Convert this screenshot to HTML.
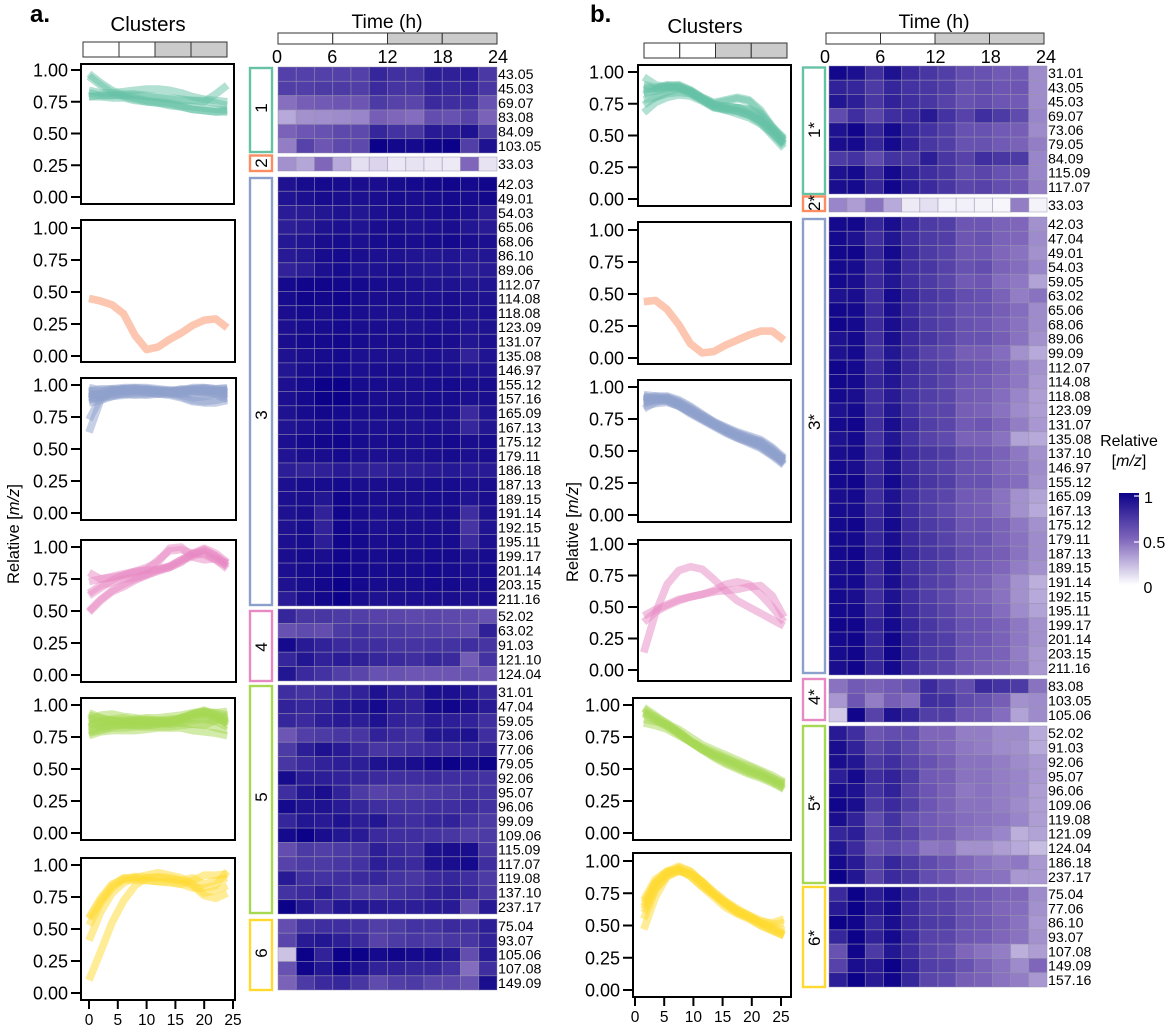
<!DOCTYPE html>
<html lang="en">
<head>
<meta charset="utf-8">
<title>Relative m/z clusters and heatmaps</title>
<style>
  html,body{margin:0;padding:0;background:#fff;}
  svg{display:block;font-family:"Liberation Sans",Arial,sans-serif;fill:#000;}
</style>
</head>
<body>
<svg id="figure" xmlns="http://www.w3.org/2000/svg" width="1170" height="1030" viewBox="0 0 1170 1030">
  <rect x="0" y="0" width="1170" height="1030" fill="#fff"/>
  <text x="30" y="22" font-size="24" font-weight="bold">a.</text>
  <text x="590" y="22" font-size="24" font-weight="bold">b.</text>
  <text x="148" y="31" font-size="20.5" text-anchor="middle">Clusters</text>
  <text x="705" y="33" font-size="20.5" text-anchor="middle">Clusters</text>
  <text x="387" y="28" font-size="19.3" text-anchor="middle">Time (h)</text>
  <text x="934" y="28" font-size="19.3" text-anchor="middle">Time (h)</text>
  <text transform="translate(19,534) rotate(-90)" font-size="16.5" text-anchor="middle">Relative [<tspan font-style="italic">m/z</tspan>]</text>
  <text transform="translate(578,532) rotate(-90)" font-size="16.5" text-anchor="middle">Relative [<tspan font-style="italic">m/z</tspan>]</text>
  <text x="1129" y="446" font-size="16" text-anchor="middle">Relative</text>
  <text x="1129" y="466" font-size="16" text-anchor="middle">[<tspan font-style="italic">m/z</tspan>]</text>
  <defs>
    <linearGradient id="colorbarGradient" x1="0" y1="0" x2="0" y2="1"></linearGradient>
  </defs>
  <rect x="1119" y="493" width="20" height="92" fill="url(#colorbarGradient)"/>
  <line x1="1134" x2="1139" y1="496" y2="496" stroke="#fff" stroke-width="1.2"/>
  <line x1="1134" x2="1139" y1="542" y2="542" stroke="#fff" stroke-width="1.2"/>
  <text x="1144" y="503" font-size="16">1</text>
  <text x="1143" y="548" font-size="16">0.5</text>
  <text x="1143.5" y="593" font-size="16">0</text>
  <g id="chartLayer"></g>
</svg>
<script>
/* ---------- line-chart data ---------- */
const hoursA = [0,2,4,6,8,10,12,14,16,18,20,22,24];
const hoursB = [1.5,3.5,5.5,7.5,9.5,11.5,13.5,15.5,17.5,19.5,21.5,23.5,25.5];
const yTickValues = [1,0.75,0.5,0.25,0];
const yTickLabels = ["1.00","0.75","0.50","0.25","0.00"];
const xTickValues = [0,5,10,15,20,25];
const xTickLabels = ["0","5","10","15","20","25"];
const timeTickLabels = ["0","6","12","18","24"];
const clusterColors = ["#66c2a5","#fc8d62","#8da0cb","#e78ac3","#a6d854","#ffd92f"];

const a1Lines = [
 [.97,.90,.84,.80,.78,.76,.75,.74,.72,.71,.70,.69,.69],
 [.95,.88,.82,.79,.77,.75,.74,.72,.71,.69,.68,.67,.67],
 [.84,.82,.82,.83,.84,.85,.85,.84,.82,.79,.77,.76,.75],
 [.79,.80,.80,.81,.81,.80,.79,.78,.77,.76,.76,.74,.72],
 [.82,.80,.80,.80,.80,.79,.78,.77,.76,.76,.75,.81,.88],
 [.79,.79,.78,.78,.76,.75,.74,.73,.71,.69,.68,.67,.68]
];
const a2Lines = [[.45,.43,.40,.33,.16,.05,.07,.13,.18,.24,.28,.29,.22]];
const a3Lines = [
 [.63,.88,.95,.95,.96,.96,.95,.95,.96,.97,.97,.96,.95],
 [.73,.90,.96,.97,.97,.96,.96,.95,.95,.96,.96,.96,.94],
 [.98,.96,.96,.97,.98,.98,.97,.96,.96,.98,.98,.97,.98],
 [.96,.95,.97,.98,.98,.97,.96,.96,.95,.96,.97,.96,.96],
 [.92,.93,.94,.96,.96,.95,.95,.94,.93,.93,.92,.93,.93],
 [.90,.90,.92,.93,.94,.94,.93,.93,.91,.88,.87,.88,.90],
 [.88,.90,.91,.92,.93,.92,.93,.92,.90,.87,.86,.86,.88],
 [.94,.92,.94,.95,.96,.97,.96,.95,.96,.97,.98,.97,.97],
 [.86,.88,.91,.94,.95,.96,.95,.94,.94,.95,.95,.93,.91],
 [.91,.94,.96,.97,.97,.96,.95,.94,.92,.90,.91,.92,.89],
 [.89,.92,.93,.93,.92,.93,.94,.93,.94,.95,.94,.94,.93],
 [.95,.97,.97,.96,.95,.94,.93,.95,.97,.96,.95,.95,.96]
];
const a4Lines = [
 [.80,.75,.76,.78,.81,.84,.88,.99,1.0,.92,.90,.91,.87],
 [.73,.75,.77,.79,.81,.82,.90,.97,.98,.95,.94,.90,.85],
 [.62,.68,.74,.78,.80,.82,.82,.84,.88,.95,.97,.93,.87],
 [.64,.70,.72,.75,.76,.79,.83,.85,.90,.95,.99,.95,.88],
 [.49,.58,.65,.69,.74,.78,.82,.85,.90,.94,.98,.93,.85],
 [.50,.59,.66,.71,.75,.78,.81,.84,.89,.93,.96,.90,.83]
];
const a5Lines = [
 [.90,.88,.88,.87,.89,.90,.90,.91,.92,.94,.95,.93,.90],
 [.87,.85,.86,.85,.85,.86,.86,.87,.88,.92,.94,.92,.88],
 [.85,.86,.88,.88,.87,.88,.88,.87,.89,.93,.96,.92,.85],
 [.80,.83,.85,.84,.84,.84,.85,.86,.90,.93,.95,.90,.86],
 [.78,.80,.82,.82,.83,.83,.83,.83,.84,.85,.85,.82,.80],
 [.76,.79,.80,.80,.80,.81,.82,.82,.82,.80,.79,.78,.76],
 [.88,.92,.93,.91,.90,.88,.87,.88,.90,.92,.93,.94,.95],
 [.92,.90,.88,.87,.86,.85,.87,.86,.88,.90,.91,.90,.86],
 [.83,.87,.89,.90,.88,.87,.86,.85,.86,.88,.89,.87,.83],
 [.86,.83,.84,.86,.88,.89,.88,.87,.86,.85,.84,.88,.92],
 [.94,.90,.87,.85,.84,.84,.85,.87,.90,.93,.95,.94,.92],
 [.79,.81,.83,.85,.86,.87,.88,.89,.89,.90,.90,.88,.87]
];
const a6Lines = [
 [.10,.32,.55,.72,.84,.90,.91,.90,.88,.84,.76,.74,.78],
 [.41,.63,.78,.86,.90,.92,.94,.92,.90,.85,.78,.80,.84],
 [.53,.70,.82,.89,.91,.90,.90,.89,.88,.90,.85,.88,.90],
 [.59,.74,.85,.89,.88,.88,.87,.87,.85,.88,.92,.92,.93],
 [.58,.72,.84,.90,.90,.88,.87,.86,.85,.82,.82,.84,.95]
];
const b1Lines = [
 [.96,.90,.88,.87,.83,.78,.73,.71,.70,.67,.62,.55,.44],
 [.90,.88,.89,.88,.84,.79,.74,.73,.72,.70,.65,.55,.46],
 [.86,.87,.90,.89,.85,.79,.75,.77,.79,.77,.68,.56,.47],
 [.82,.86,.89,.90,.86,.80,.76,.78,.80,.78,.70,.57,.46],
 [.78,.80,.84,.87,.85,.79,.74,.73,.72,.68,.62,.52,.43],
 [.74,.80,.83,.84,.83,.78,.72,.71,.72,.71,.67,.57,.48],
 [.68,.76,.80,.82,.81,.77,.72,.70,.69,.66,.60,.50,.40],
 [.84,.85,.87,.88,.84,.78,.73,.70,.67,.64,.59,.52,.42],
 [.88,.87,.88,.89,.85,.80,.75,.72,.69,.66,.61,.53,.44]
];
const b2Lines = [[.44,.45,.38,.26,.11,.04,.05,.10,.14,.18,.21,.21,.14]];
const b3Lines = [
 [.92,.91,.90,.87,.83,.78,.73,.68,.64,.60,.57,.50,.42],
 [.90,.92,.92,.88,.83,.77,.72,.67,.62,.58,.55,.50,.44],
 [.83,.88,.91,.88,.82,.76,.71,.66,.62,.59,.56,.49,.40],
 [.88,.90,.90,.86,.81,.76,.71,.67,.63,.60,.58,.52,.43],
 [.94,.93,.91,.86,.80,.75,.70,.65,.61,.58,.54,.47,.41],
 [.85,.87,.88,.85,.80,.75,.70,.65,.60,.56,.52,.46,.39],
 [.91,.93,.93,.90,.85,.79,.73,.69,.65,.62,.59,.53,.45],
 [.87,.89,.89,.85,.79,.74,.69,.64,.60,.57,.53,.47,.42],
 [.93,.91,.89,.85,.80,.75,.70,.66,.61,.57,.54,.48,.40],
 [.89,.90,.92,.89,.84,.78,.72,.68,.64,.61,.57,.51,.44]
];
const b4Lines = [
 [.14,.45,.68,.79,.82,.80,.72,.63,.55,.50,.45,.40,.35],
 [.38,.46,.51,.55,.58,.60,.63,.68,.70,.68,.60,.50,.38],
 [.43,.48,.52,.56,.58,.60,.62,.63,.64,.66,.67,.59,.42]
];
const b5Lines = [
 [.97,.90,.84,.78,.71,.65,.59,.54,.50,.46,.43,.39,.35],
 [.95,.91,.86,.79,.72,.66,.60,.56,.52,.48,.45,.41,.37],
 [.93,.88,.83,.77,.71,.65,.61,.58,.54,.50,.47,.43,.39],
 [.89,.87,.85,.81,.75,.69,.65,.61,.57,.53,.49,.45,.40],
 [.86,.84,.81,.76,.71,.66,.62,.58,.54,.49,.45,.41,.36],
 [.98,.92,.85,.78,.71,.65,.60,.55,.51,.47,.44,.40,.34],
 [.94,.89,.84,.79,.72,.67,.63,.59,.55,.52,.48,.43,.38]
];
const b6Lines = [
 [.47,.72,.88,.93,.90,.82,.74,.66,.60,.56,.50,.46,.42],
 [.55,.78,.90,.95,.92,.84,.74,.67,.61,.57,.52,.47,.43],
 [.63,.82,.92,.96,.92,.83,.74,.67,.60,.56,.52,.50,.46],
 [.65,.84,.92,.94,.88,.80,.72,.64,.59,.55,.50,.46,.42],
 [.70,.86,.92,.93,.88,.80,.74,.68,.62,.57,.53,.52,.55],
 [.68,.83,.90,.92,.90,.84,.76,.68,.62,.58,.52,.48,.44],
 [.60,.78,.88,.92,.90,.84,.76,.69,.63,.58,.54,.51,.52]
];

/* ---------- heatmap data: panel a ---------- */
const heatA1Labels = ["43.05","45.03","69.07","83.08","84.09","103.05"];
const heatA1Values = [
 [.69,.69,.69,.69,.69,.82,.77,.76,.86,.85,.87,.73],
 [.70,.70,.72,.72,.70,.80,.75,.75,.84,.82,.84,.74],
 [.47,.54,.56,.58,.58,.72,.68,.66,.80,.78,.78,.60],
 [.28,.36,.37,.38,.40,.54,.50,.48,.62,.60,.68,.52],
 [.52,.58,.60,.65,.65,.82,.76,.74,.88,.87,.92,.72],
 [.42,.68,.58,.65,.65,1,.97,.96,.99,1,.70,.92]
];
const heatA2Labels = ["33.03"];
const heatA2Values = [[.36,.29,.50,.28,.10,.14,.08,.09,.08,.07,.50,.09]];
const heatA3Labels = ["42.03","49.01","54.03","65.06","68.06","86.10","89.06","112.07","114.08","118.08","123.09","131.07","135.08","146.97","155.12","157.16","165.09","167.13","175.12","179.11","186.18","187.13","189.15","191.14","192.15","195.11","199.17","201.14","203.15","211.16"];
const heatA3Values = [
 [.92,.95,.96,.95,.94,.94,.95,.96,.97,.98,.96,.98],
 [.91,.93,.95,.94,.93,.94,.95,.94,.95,.96,.95,.97],
 [.87,.88,.90,.92,.90,.93,.94,.93,.94,.95,.93,.88],
 [.86,.88,.92,.93,.91,.94,.94,.92,.93,.94,.90,.88],
 [.89,.91,.94,.95,.93,.95,.95,.94,.95,.96,.94,.93],
 [.88,.90,.95,.96,.94,.93,.92,.91,.90,.91,.89,.90],
 [.84,.87,.93,.95,.91,.92,.93,.90,.89,.90,.86,.88],
 [.96,.98,.98,.97,.96,.95,.94,.93,.92,.92,.90,.91],
 [.95,.98,.97,.98,.95,.94,.94,.93,.93,.94,.92,.92],
 [.94,.96,.94,.96,.94,.93,.92,.93,.94,.94,.91,.93],
 [.93,.95,.95,.96,.94,.94,.93,.92,.93,.93,.91,.92],
 [.94,.96,.96,.97,.95,.94,.94,.94,.95,.94,.90,.93],
 [.92,.94,.95,.96,.93,.93,.92,.92,.93,.92,.84,.91],
 [.90,.94,.95,.95,.93,.94,.94,.93,.94,.93,.91,.92],
 [.93,.96,1,1,.95,.95,.94,.94,.95,.96,.94,.95],
 [.93,.96,1,1,.96,.94,.94,.94,.95,.95,.93,.94],
 [.92,.95,.97,.96,.94,.94,.94,.93,.94,.93,.80,.91],
 [.91,.93,.95,.96,.93,.93,.93,.92,.93,.92,.82,.90],
 [.93,.96,.97,.98,.95,.94,.95,.94,.95,.96,.94,.95],
 [.91,.94,.94,.96,.93,.93,.93,.93,.94,.95,.93,.94],
 [.86,.84,.85,.88,.85,.84,.86,.86,.88,.89,.87,.88],
 [.93,.95,.95,.96,.94,.94,.94,.94,.95,.95,.93,.94],
 [.93,.94,.90,.98,.95,.94,.94,.94,.95,.95,.91,.94],
 [.92,.94,.84,.98,.94,.93,.94,.93,.94,.94,.78,.92],
 [.92,.95,.84,.98,.95,.93,.94,.94,.94,.94,.75,.91],
 [.93,.95,.86,.98,.96,.94,.95,.94,.95,.95,.80,.93],
 [.94,.96,.94,.98,.96,.95,.96,.95,.96,.96,.92,.95],
 [.93,.95,.96,.98,.96,.95,.95,.95,.96,.95,.93,.95],
 [.92,.95,.97,1,.96,.95,.95,.95,.96,.96,.94,.95],
 [.87,.94,.97,1,.94,.92,.93,.93,.94,.94,.92,.94]
];
const heatA4Labels = ["52.02","63.02","91.03","121.10","124.04"];
const heatA4Values = [
 [.82,.74,.74,.72,.70,.68,.66,.65,.66,.65,.64,.60],
 [.60,.64,.62,.72,.76,.72,.72,.70,.70,.68,.64,.85],
 [.96,.88,.84,.80,.78,.78,.75,.75,.76,.76,.78,.75],
 [.82,.90,.84,.87,.85,.82,.80,.78,.82,.80,.55,.76],
 [.90,.80,.76,.70,.66,.60,.60,.58,.58,.58,.60,.58]
];
const heatA5Labels = ["31.01","47.04","59.05","73.06","77.06","79.05","92.06","95.07","96.06","99.09","109.06","115.09","117.07","119.08","137.10","237.17"];
const heatA5Values = [
 [.78,.76,.78,.82,.84,.92,.86,.84,.93,.93,.90,.82],
 [.84,.82,.84,.90,.92,.96,.88,.85,.96,.98,.94,.88],
 [.82,.80,.86,.88,.86,.92,.84,.82,.88,.86,.84,.78],
 [.58,.70,.72,.74,.74,.84,.80,.76,.90,.90,.92,.78],
 [.72,.86,.92,.88,.80,.74,.76,.78,.80,.80,.82,.85],
 [.74,.80,.84,.86,.86,.92,.92,.94,.98,1,.96,1],
 [.95,.88,.86,.84,.82,.80,.78,.78,.80,.78,.78,.76],
 [.78,.90,.94,.84,.72,.68,.70,.70,.72,.74,.78,.76],
 [.96,.92,.92,.88,.82,.78,.76,.76,.78,.78,.80,.76],
 [.82,.90,.88,.92,.86,.90,.80,.78,.82,.84,.76,.72],
 [.96,1,.94,.90,.88,.80,.78,.78,.76,.74,.70,.72],
 [.62,.72,.70,.72,.74,.86,.80,.78,.92,.94,.94,.74],
 [.68,.72,.72,.74,.76,.86,.82,.80,.92,.94,.96,.78],
 [.88,.78,.76,.78,.80,.82,.76,.74,.80,.82,.78,.72],
 [.76,.80,.86,.78,.72,.72,.76,.78,.84,.86,.82,.74],
 [1,.90,.80,.90,.90,.88,.86,.86,.88,.88,.64,.88]
];
const heatA6Labels = ["75.04","93.07","105.06","107.08","149.09"];
const heatA6Values = [
 [.62,.76,.78,.78,.76,.70,.72,.76,.76,.80,.78,.86],
 [.66,.88,.90,.86,.80,.68,.72,.74,.72,.74,.74,.84],
 [.20,1,.84,1,1,.96,.98,.96,.96,.90,.62,.88],
 [.60,.98,.90,.98,.92,.84,.84,.82,.82,.76,.48,.78],
 [.52,.72,.80,.82,.74,.64,.70,.72,.66,.66,.60,.94]
];

/* ---------- heatmap data: panel b ---------- */
const heatB1Labels = ["31.01","43.05","45.03","69.07","73.06","79.05","84.09","115.09","117.07"];
const heatB1Values = [
 [.97,.93,.78,.92,.80,.74,.70,.62,.60,.56,.56,.38],
 [.84,.82,.72,.82,.76,.74,.70,.60,.62,.58,.58,.38],
 [.90,.86,.74,.84,.78,.74,.68,.60,.62,.58,.56,.38],
 [.64,.78,.66,.78,.80,.88,.76,.68,.78,.72,.64,.40],
 [.92,.98,.82,.96,.82,.76,.70,.60,.60,.56,.54,.38],
 [.94,.96,.82,.96,.84,.74,.70,.60,.60,.56,.52,.42],
 [.72,.76,.64,.76,.74,.86,.74,.68,.78,.74,.72,.40],
 [.92,.96,.80,.96,.84,.78,.74,.64,.66,.60,.56,.40],
 [.94,.96,.82,.98,.86,.80,.74,.66,.68,.62,.58,.42]
];
const heatB2Labels = ["33.03"];
const heatB2Values = [[.40,.32,.46,.28,.07,.10,.05,.05,.04,.03,.42,.04]];
const heatB3Labels = ["42.03","47.04","49.01","54.03","59.05","63.02","65.06","68.06","89.06","99.09","112.07","114.08","118.08","123.09","131.07","135.08","137.10","146.97","155.12","165.09","167.13","175.12","179.11","187.13","189.15","191.14","192.15","195.11","199.17","201.14","203.15","211.16"];
const heatB3Values = [
 [.96,.97,.82,.94,.80,.72,.70,.58,.58,.52,.50,.36],
 [.96,.92,.78,.90,.78,.72,.70,.58,.60,.52,.50,.38],
 [.97,.98,.82,.96,.80,.72,.68,.58,.58,.50,.46,.36],
 [.96,.95,.80,.92,.78,.74,.68,.60,.62,.52,.48,.40],
 [.96,.94,.80,.90,.78,.72,.66,.56,.58,.48,.44,.30],
 [.92,.94,.78,.96,.82,.74,.70,.62,.60,.52,.42,.46],
 [.97,.96,.80,.94,.80,.72,.68,.60,.60,.54,.48,.38],
 [.98,.96,.80,.94,.82,.72,.68,.60,.58,.52,.46,.38],
 [.92,.96,.78,.94,.80,.74,.68,.60,.60,.54,.46,.36],
 [.92,.96,.76,.90,.78,.68,.64,.54,.54,.48,.36,.28],
 [.98,.96,.80,.92,.80,.72,.68,.60,.58,.52,.44,.36],
 [.97,.96,.82,.90,.78,.72,.66,.58,.56,.50,.44,.34],
 [.96,.94,.78,.88,.76,.70,.66,.56,.54,.48,.40,.32],
 [.92,.96,.78,.90,.76,.68,.66,.54,.52,.46,.38,.32],
 [.96,.98,.78,.94,.80,.70,.66,.56,.58,.50,.42,.34],
 [.92,.96,.76,.90,.76,.68,.64,.52,.52,.46,.30,.28],
 [.94,.96,.78,.94,.80,.74,.70,.60,.58,.52,.44,.36],
 [.96,.94,.80,.92,.80,.72,.68,.60,.58,.50,.46,.38],
 [.96,.98,.82,.96,.82,.74,.70,.60,.60,.52,.48,.36],
 [.94,.96,.78,.92,.78,.70,.66,.56,.54,.46,.36,.30],
 [.95,.95,.80,.92,.78,.70,.64,.56,.54,.46,.36,.28],
 [.96,.98,.82,.96,.80,.72,.68,.58,.58,.52,.44,.36],
 [.96,.96,.82,.94,.80,.74,.68,.60,.60,.52,.46,.38],
 [.96,.98,.84,.96,.82,.74,.70,.62,.58,.54,.46,.38],
 [.94,.96,.80,.94,.78,.72,.66,.58,.56,.50,.42,.36],
 [.95,.96,.80,.94,.80,.70,.66,.56,.54,.46,.36,.26],
 [.96,.94,.78,.92,.78,.70,.64,.56,.52,.46,.36,.28],
 [.96,.96,.80,.94,.80,.72,.66,.58,.56,.48,.38,.30],
 [.98,.98,.84,.96,.82,.74,.68,.60,.58,.52,.44,.36],
 [.96,.98,.82,.98,.82,.74,.70,.60,.58,.52,.44,.36],
 [.95,.98,.82,.98,.82,.72,.70,.58,.56,.52,.42,.34],
 [.94,.98,.82,.96,.80,.70,.66,.58,.54,.50,.44,.34]
];
const heatB4Labels = ["83.08","103.05","105.06"];
const heatB4Values = [
 [.46,.56,.52,.56,.60,.80,.70,.62,.80,.76,.72,.46],
 [.34,.58,.42,.54,.48,.78,.76,.64,.60,.54,.36,.38],
 [.18,.98,.68,.92,.82,.70,.70,.58,.56,.48,.30,.38]
];
const heatB5Labels = ["52.02","91.03","92.06","95.07","96.06","109.06","119.08","121.09","124.04","186.18","237.17"];
const heatB5Values = [
 [.88,.78,.58,.62,.62,.50,.50,.42,.42,.38,.38,.28],
 [.94,.84,.66,.72,.64,.54,.50,.44,.42,.38,.36,.28],
 [.94,.90,.72,.78,.68,.60,.54,.46,.46,.42,.38,.34],
 [.86,.96,.78,.84,.72,.56,.54,.46,.46,.42,.40,.34],
 [.94,.92,.76,.84,.68,.58,.52,.44,.46,.42,.40,.32],
 [.98,.94,.72,.80,.70,.58,.52,.46,.46,.42,.38,.32],
 [.94,.84,.64,.76,.62,.56,.52,.48,.46,.44,.40,.32],
 [.82,.86,.66,.74,.68,.56,.54,.46,.44,.40,.26,.30],
 [.90,.80,.60,.64,.58,.44,.46,.36,.36,.32,.28,.22],
 [.96,.88,.70,.82,.72,.64,.58,.50,.46,.42,.44,.34],
 [1,.90,.68,.80,.74,.62,.58,.50,.48,.46,.34,.34]
];
const heatB6Labels = ["75.04","77.06","86.10","93.07","107.08","149.09","157.16"];
const heatB6Values = [
 [.80,1,.86,.96,.82,.70,.68,.60,.58,.52,.50,.38],
 [.88,1,.88,.96,.80,.70,.68,.60,.56,.50,.48,.36],
 [1,.98,.82,.94,.80,.72,.70,.60,.58,.52,.46,.34],
 [.82,1,.84,.96,.80,.68,.66,.58,.56,.50,.46,.36],
 [.60,.98,.72,.90,.78,.66,.62,.50,.46,.42,.26,.32],
 [.68,.94,.88,1,.84,.70,.68,.60,.52,.46,.38,.50],
 [.86,1,.88,.98,.82,.66,.64,.54,.52,.46,.42,.34]
];

/* ---------- axis functions and colour scale ---------- */
function makeLinear(d0, d1, r0, r1) {
  return function (v) { return r0 + (v - d0) * (r1 - r0) / (d1 - d0); };
}
const colorLow = [255,255,255];
const colorMid = [127,102,187];
const colorHigh = [12,2,137];
function colorScale(v) {
  const c = v < 0.5 ? colorLow : colorMid;
  const d = v < 0.5 ? colorMid : colorHigh;
  const t = v < 0.5 ? v / 0.5 : (v - 0.5) / 0.5;
  return "rgb(" + [0,1,2].map(function (i) { return Math.round(c[i] + (d[i] - c[i]) * t); }).join(",") + ")";
}

/* ---------- layout (geometry only) ---------- */
const chartFrames = [
 {panel:"a",cluster:1,lines:a1Lines,hours:hoursA,left:81,right:234,top:64,bottom:204,y1:70,y0:197,labelRight:68},
 {panel:"a",cluster:2,lines:a2Lines,hours:hoursA,left:81,right:235,top:220,bottom:362,y1:228,y0:356,labelRight:68},
 {panel:"a",cluster:3,lines:a3Lines,hours:hoursA,left:81,right:236,top:378,bottom:520,y1:385,y0:513,labelRight:68},
 {panel:"a",cluster:4,lines:a4Lines,hours:hoursA,left:81,right:236,top:540,bottom:682,y1:547,y0:675,labelRight:68},
 {panel:"a",cluster:5,lines:a5Lines,hours:hoursA,left:81,right:235,top:698,bottom:840,y1:705,y0:833,labelRight:68},
 {panel:"a",cluster:6,lines:a6Lines,hours:hoursA,left:81,right:235,top:858,bottom:1000,y1:865,y0:993,labelRight:68,xAxis:true},
 {panel:"b",cluster:1,lines:b1Lines,hours:hoursB,left:638,right:791,top:65,bottom:206,y1:72,y0:199,labelRight:624},
 {panel:"b",cluster:2,lines:b2Lines,hours:hoursB,left:638,right:791,top:222,bottom:364,y1:230,y0:358,labelRight:624},
 {panel:"b",cluster:3,lines:b3Lines,hours:hoursB,left:638,right:791,top:380,bottom:522,y1:387,y0:515,labelRight:624},
 {panel:"b",cluster:4,lines:b4Lines,hours:hoursB,left:638,right:791,top:540,bottom:681,y1:544,y0:670,labelRight:624},
 {panel:"b",cluster:5,lines:b5Lines,hours:hoursB,left:633,right:791,top:698,bottom:840,y1:705,y0:833,labelRight:620},
 {panel:"b",cluster:6,lines:b6Lines,hours:hoursB,left:633,right:791,top:853,bottom:997,y1:861,y0:990,labelRight:620,xAxis:true}
];
const panelXScale = {a:makeLinear(0,25,89,233), b:makeLinear(0,25,635,781)};
const heatFrames = [
 {panel:"a",cluster:"1",labels:heatA1Labels,values:heatA1Values,top:67,bottom:153,left:278,right:497,sideLeft:250,sideRight:272,sideTop:68,sideBottom:152,textY:108,colorIndex:0},
 {panel:"a",cluster:"2",labels:heatA2Labels,values:heatA2Values,top:157,bottom:171,left:278,right:497,sideLeft:250,sideRight:272,sideTop:155.5,sideBottom:171,textY:163,colorIndex:1},
 {panel:"a",cluster:"3",labels:heatA3Labels,values:heatA3Values,top:177,bottom:606,left:278,right:497,sideLeft:250,sideRight:272,sideTop:178,sideBottom:605,textY:415,colorIndex:2},
 {panel:"a",cluster:"4",labels:heatA4Labels,values:heatA4Values,top:609,bottom:681,left:278,right:497,sideLeft:250,sideRight:272,sideTop:611,sideBottom:681,textY:647,colorIndex:3},
 {panel:"a",cluster:"5",labels:heatA5Labels,values:heatA5Values,top:685,bottom:914,left:278,right:497,sideLeft:250,sideRight:272,sideTop:686,sideBottom:913,textY:797,colorIndex:4},
 {panel:"a",cluster:"6",labels:heatA6Labels,values:heatA6Values,top:919,bottom:990,left:278,right:497,sideLeft:250,sideRight:272,sideTop:920,sideBottom:990,textY:953,colorIndex:5},
 {panel:"b",cluster:"1*",labels:heatB1Labels,values:heatB1Values,top:66,bottom:194,left:829,right:1047,sideLeft:803,sideRight:825,sideTop:67.5,sideBottom:194,textY:130,colorIndex:0},
 {panel:"b",cluster:"2*",labels:heatB2Labels,values:heatB2Values,top:198,bottom:212,left:829,right:1047,sideLeft:803,sideRight:825,sideTop:196.5,sideBottom:211,textY:203,colorIndex:1},
 {panel:"b",cluster:"3*",labels:heatB3Labels,values:heatB3Values,top:217,bottom:675,left:829,right:1047,sideLeft:803,sideRight:825,sideTop:219,sideBottom:673,textY:422,colorIndex:2},
 {panel:"b",cluster:"4*",labels:heatB4Labels,values:heatB4Values,top:679,bottom:722,left:829,right:1047,sideLeft:803,sideRight:825,sideTop:679,sideBottom:720,textY:697,colorIndex:3},
 {panel:"b",cluster:"5*",labels:heatB5Labels,values:heatB5Values,top:726,bottom:884,left:829,right:1047,sideLeft:803,sideRight:825,sideTop:726,sideBottom:883,textY:803,colorIndex:4},
 {panel:"b",cluster:"6*",labels:heatB6Labels,values:heatB6Values,top:887,bottom:987,left:829,right:1047,sideLeft:803,sideRight:825,sideTop:887,sideBottom:987,textY:938,colorIndex:5}
];
const timeBars = [
 {name:"panel-a-clusters-time-bar",left:83,right:227,top:42,bottom:57,labels:null},
 {name:"panel-b-clusters-time-bar",left:644,right:787,top:43,bottom:58,labels:null},
 {name:"panel-a-heatmap-time-bar",left:278,right:497,top:33,bottom:44,labels:timeTickLabels,labelLeft:277,labelRight:498,baseline:63},
 {name:"panel-b-heatmap-time-bar",left:826,right:1044,top:33,bottom:44,labels:timeTickLabels,labelLeft:825,labelRight:1046,baseline:63}
];

/* ---------- drawing ---------- */
const SVGNS = "http://www.w3.org/2000/svg";
const layer = document.getElementById("chartLayer");
function svgEl(tag, attrs, parent) {
  const el = document.createElementNS(SVGNS, tag);
  Object.keys(attrs).forEach(function (k) { el.setAttribute(k, attrs[k]); });
  (parent || layer).appendChild(el);
  return el;
}

const gradient = document.getElementById("colorbarGradient");
[1,0.75,0.5,0.25,0].forEach(function (v) {
  svgEl("stop", {offset: (1 - v) * 100 + "%", "stop-color": colorScale(v)}, gradient);
});

chartFrames.forEach(function (f) {
  const id = "panel-" + f.panel + "-cluster-" + f.cluster;
  const xAt = panelXScale[f.panel];
  const yAt = makeLinear(0, 1, f.y0, f.y1);
  const g = svgEl("g", {}, layer);
  
  

  f.lines.forEach(function (series, i) {
    const pts = series.map(function (v, j) { return xAt(f.hours[j]).toFixed(1) + "," + yAt(v).toFixed(1); }).join(" ");
    const line = svgEl("polyline", {points: pts, fill: "none", stroke: clusterColors[f.cluster - 1], "stroke-width": 7.6, "stroke-opacity": 0.5, "stroke-linejoin": "round", "stroke-linecap": "butt"}, g);
    
    
  });

  const box = svgEl("rect", {x: f.left, y: f.top, width: f.right - f.left, height: f.bottom - f.top, fill: "none", stroke: "#000", "stroke-width": 2}, g);
  
  

  yTickValues.forEach(function (v, i) {
    const tick = svgEl("line", {x1: f.left - 10, x2: f.left, y1: yAt(v), y2: yAt(v), stroke: "#000", "stroke-width": 2}, g);
    
    
    const label = svgEl("text", {x: f.labelRight, y: yAt(v) + 6.5, "font-size": 18, "text-anchor": "end"}, g);
    
    
    label.textContent = yTickLabels[i];
  });

  if (f.xAxis) {
    xTickValues.forEach(function (v, i) {
      const tick = svgEl("line", {x1: xAt(v), x2: xAt(v), y1: f.bottom, y2: f.bottom + 9, stroke: "#000", "stroke-width": 2}, g);
      
      
      const label = svgEl("text", {x: xAt(v), y: f.bottom + 25, "font-size": 15.5, "text-anchor": "middle"}, g);
      
      
      label.textContent = xTickLabels[i];
    });
  }
});

heatFrames.forEach(function (f) {
  const id = "panel-" + f.panel + "-heatmap-cluster-" + f.cluster.replace("*", "-star");
  const g = svgEl("g", {}, layer);
  
  

  const nCols = f.values[0].length;
  const xAt = makeLinear(0, nCols, f.left, f.right);
  const yAt = makeLinear(0, f.labels.length, f.top, f.bottom);

  f.values.forEach(function (row, r) {
    row.forEach(function (v, c) {
      const cell = svgEl("rect", {x: xAt(c).toFixed(2), y: yAt(r).toFixed(2), width: (xAt(c + 1) - xAt(c)).toFixed(2), height: (yAt(r + 1) - yAt(r)).toFixed(2), fill: colorScale(v), stroke: "rgba(150,145,175,.6)", "stroke-width": 0.8}, g);
      
      
    });
    const rowLabel = svgEl("text", {x: f.right + 1, y: (yAt(r) + yAt(r + 1)) / 2 + 5, "font-size": 14.2}, g);
    
    
    rowLabel.textContent = f.labels[r];
  });

  const side = svgEl("rect", {x: f.sideLeft, y: f.sideTop, width: f.sideRight - f.sideLeft, height: f.sideBottom - f.sideTop, fill: "#fff", stroke: clusterColors[f.colorIndex], "stroke-width": 2.4}, g);
  
  

  const sideX = (f.sideLeft + f.sideRight) / 2;
  const sideText = svgEl("text", {transform: "translate(" + (sideX + 6) + "," + f.textY + ") rotate(-90)", "font-size": 17, "text-anchor": "middle"}, g);
  
  
  sideText.textContent = f.cluster;
});

timeBars.forEach(function (b) {
  const g = svgEl("g", {}, layer);
  
  
  const xAt = makeLinear(0, 24, b.left, b.right);
  [0, 6, 12, 18].forEach(function (h) {
    const seg = svgEl("rect", {x: xAt(h), y: b.top, width: xAt(h + 6) - xAt(h), height: b.bottom - b.top, fill: h < 12 ? "#fff" : "#cbcbcb", stroke: "#333", "stroke-width": 1}, g);
    
    
  });
  if (b.labels) {
    const labelX = makeLinear(0, 24, b.labelLeft, b.labelRight);
    [0, 6, 12, 18, 24].forEach(function (h, i) {
      const t = svgEl("text", {x: labelX(h), y: b.baseline, "font-size": 18, "text-anchor": "middle"}, g);
      
      
      t.textContent = b.labels[i];
    });
  }
});
</script>
</body>
</html>
